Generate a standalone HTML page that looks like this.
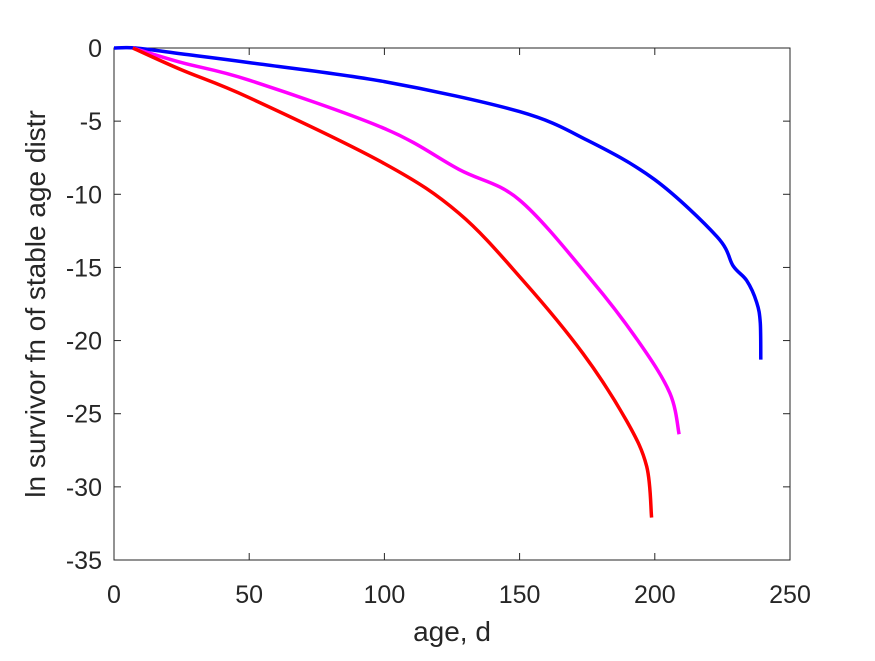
<!DOCTYPE html>
<html><head><meta charset="utf-8"><style>
body{margin:0;background:#fff;}
svg{font-family:"Liberation Sans",Arial,sans-serif;}
</style></head><body>
<svg id="chart" width="875" height="656" xmlns="http://www.w3.org/2000/svg">
<rect width="875" height="656" fill="#fff"/>
<g id="axes"></g>
<g id="series"></g>
<text x="452" y="641" font-size="28" text-anchor="middle" fill="#262626">age, d</text>
<text transform="translate(45,304) rotate(-90)" font-size="28" text-anchor="middle" fill="#262626">ln survivor fn of stable age distr</text>
</svg>
<script>
const xTicks=[0,50,100,150,200,250];
const yTicks=[0,-5,-10,-15,-20,-25,-30,-35];
const blueX=[0,8,25,50,100,150,175,200,223,229,234,237.7,239,239.2];
const blueY=[0,0,-0.4,-1.0,-2.3,-4.35,-6.3,-9.0,-12.9,-14.9,-15.9,-17.4,-18.8,-21.3];
const magX=[7,25,50,100,127.6,150,176.7,194.5,205.6,209];
const magY=[0,-1.0,-2.2,-5.5,-8.3,-10.4,-15.9,-20.2,-23.6,-26.4];
const redX=[7,25,50,100,127.6,151.3,173.5,189.6,197,198.8];
const redY=[0,-1.5,-3.4,-7.9,-11.3,-15.9,-20.9,-25.5,-28.6,-32.1];
const X0=114,X1=790,Y0=48,Y1=560;
const sx=v=>X0+v/250*(X1-X0);
const sy=v=>Y0+(0-v)/35*(Y1-Y0);
const NS="http://www.w3.org/2000/svg";
const axes=document.getElementById('axes'),series=document.getElementById('series');
function mk(t,a,p){const e=document.createElementNS(NS,t);for(const k in a)e.setAttribute(k,a[k]);p.appendChild(e);return e;}
const box=mk('rect',{x:X0,y:Y0,width:X1-X0,height:Y1-Y0,fill:'none',stroke:'#262626','stroke-width':1},axes);


xTicks.forEach(v=>{const x=sx(v);
mk('line',{x1:x,y1:Y1,x2:x,y2:Y1-7,stroke:'#262626'},axes);
mk('line',{x1:x,y1:Y0,x2:x,y2:Y0+7,stroke:'#262626'},axes);
const t=mk('text',{x:x,y:Y1+43,'font-size':25,'text-anchor':'middle',fill:'#262626'},axes);t.textContent=v;

});
yTicks.forEach(v=>{const y=sy(v);
mk('line',{x1:X0,y1:y,x2:X0+7,y2:y,stroke:'#262626'},axes);
mk('line',{x1:X1,y1:y,x2:X1-7,y2:y,stroke:'#262626'},axes);
const t=mk('text',{x:X0-12,y:y+9,'font-size':25,'text-anchor':'end',fill:'#262626'},axes);t.textContent=v;

});
function line(xs,ys,c,n){
const P=xs.map((x,i)=>[sx(x),sy(ys[i])]);
let d='M'+P[0][0].toFixed(1)+','+P[0][1].toFixed(1);
for(let i=0;i<P.length-1;i++){
const p0=P[Math.max(0,i-1)],p1=P[i],p2=P[i+1],p3=P[Math.min(P.length-1,i+2)];
const c1=[p1[0]+(p2[0]-p0[0])/6,p1[1]+(p2[1]-p0[1])/6];
const c2=[p2[0]-(p3[0]-p1[0])/6,p2[1]-(p3[1]-p1[1])/6];
d+='C'+c1.map(v=>v.toFixed(1)).join(',')+' '+c2.map(v=>v.toFixed(1)).join(',')+' '+p2.map(v=>v.toFixed(1)).join(',');}
const p=mk('path',{d:d,fill:'none',stroke:c,'stroke-width':3.5,'stroke-linejoin':'round'},series);

}
line(blueX,blueY,'#0000ff','blue-series-line');
line(magX,magY,'#ff00ff','magenta-series-line');
line(redX,redY,'#ff0000','red-series-line');
</script>
</body></html>
